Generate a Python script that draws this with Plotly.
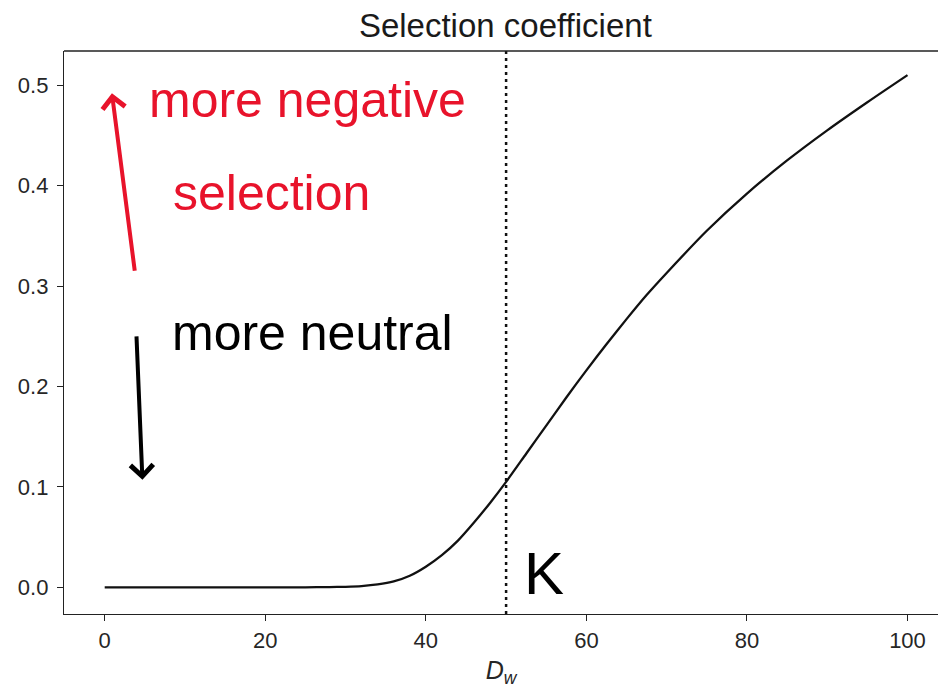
import plotly.graph_objects as go

# Selection coefficient as a function of D_w
d_w = [0, 5, 10, 15, 20, 25, 28, 30, 32, 34, 36, 38, 40, 42, 44, 46, 48, 50,
       52.5, 55, 57.5, 60, 62.5, 65, 67.5, 70, 75, 80, 85, 90, 95, 100]
s_coef = [0, 0, 0, 0, 0, 0, 0.0002, 0.0005, 0.0012, 0.0028, 0.0058, 0.0115, 0.0205,
          0.032, 0.0465, 0.0645, 0.084, 0.105, 0.133, 0.161, 0.189, 0.216, 0.242,
          0.267, 0.291, 0.313, 0.355, 0.392, 0.425, 0.455, 0.483, 0.51]
k_value = 50

x_ticks = [0, 20, 40, 60, 80, 100]
y_ticks = [0.0, 0.1, 0.2, 0.3, 0.4, 0.5]

RED = "#e8132b"
HAND_FONT = "Liberation Sans"

fig = go.Figure()

fig.add_trace(go.Scatter(
    x=d_w, y=s_coef, mode="lines",
    line=dict(color="#111111", width=2.3, shape="spline", smoothing=0.7),
    showlegend=False, hoverinfo="skip",
))

# vertical dotted marker at K
fig.add_shape(type="line", xref="x", yref="paper", x0=k_value, x1=k_value,
              y0=0, y1=1, line=dict(color="#111111", width=2.5, dash="3px,4px"))

# top frame line
fig.add_shape(type="line", xref="paper", yref="paper", x0=0, x1=1, y0=1, y1=1,
              line=dict(color="#222222", width=1.3))

annotations = [
    # red upward arrow
    dict(x=0.9, y=0.492, xref="x", yref="y", ax=23, ay=179, axref="pixel", ayref="pixel",
         showarrow=True, arrowhead=4, arrowsize=1.1, arrowwidth=4, arrowcolor=RED, text=""),
    # black downward arrow
    dict(x=4.7, y=0.107, xref="x", yref="y", ax=-6, ay=-145, axref="pixel", ayref="pixel",
         showarrow=True, arrowhead=4, arrowsize=1.1, arrowwidth=4, arrowcolor="#000000", text=""),
    dict(x=25.3, y=0.485, xref="x", yref="y", text="more negative", showarrow=False,
         font=dict(family=HAND_FONT, size=50, color=RED)),
    dict(x=20.8, y=0.393, xref="x", yref="y", text="selection", showarrow=False,
         font=dict(family=HAND_FONT, size=50, color=RED)),
    dict(x=25.9, y=0.253, xref="x", yref="y", text="more neutral", showarrow=False,
         font=dict(family=HAND_FONT, size=50, color="#000000")),
    dict(x=54.7, y=0.0133, xref="x", yref="y", text="K", showarrow=False,
         font=dict(family=HAND_FONT, size=60, color="#000000")),
]

fig.update_layout(
    width=938, height=688,
    margin=dict(l=64, r=0, t=51, b=74),
    paper_bgcolor="white", plot_bgcolor="white",
    font=dict(family="Liberation Sans, Arial, sans-serif", color="#262626"),
    title=dict(text="Selection coefficient", x=0.505, xref="paper", xanchor="center",
               y=0.963, yanchor="middle", font=dict(size=33, color="#1a1a1a")),
    annotations=annotations,
    xaxis=dict(
        range=[-5.07, 103.8], tickvals=x_ticks, ticktext=[str(v) for v in x_ticks],
        showgrid=False, zeroline=False, showline=True, linecolor="#222222", linewidth=1.3,
        ticks="outside", ticklen=6, tickwidth=1.2, tickcolor="#222222",
        tickfont=dict(size=22), mirror=False,
        title=dict(text="<i>D</i><sub><i>w</i></sub>", font=dict(size=25, color="#262626"), standoff=9),
    ),
    yaxis=dict(
        range=[-0.0266, 0.534], tickvals=y_ticks, ticktext=[f"{v:.1f}" for v in y_ticks],
        showgrid=False, zeroline=False, showline=True, linecolor="#222222", linewidth=1.3,
        ticks="outside", ticklen=6, tickwidth=1.2, tickcolor="#222222",
        tickfont=dict(size=22), mirror=False, ticklabelstandoff=4,
    ),
)

fig.write_html("out.html")
